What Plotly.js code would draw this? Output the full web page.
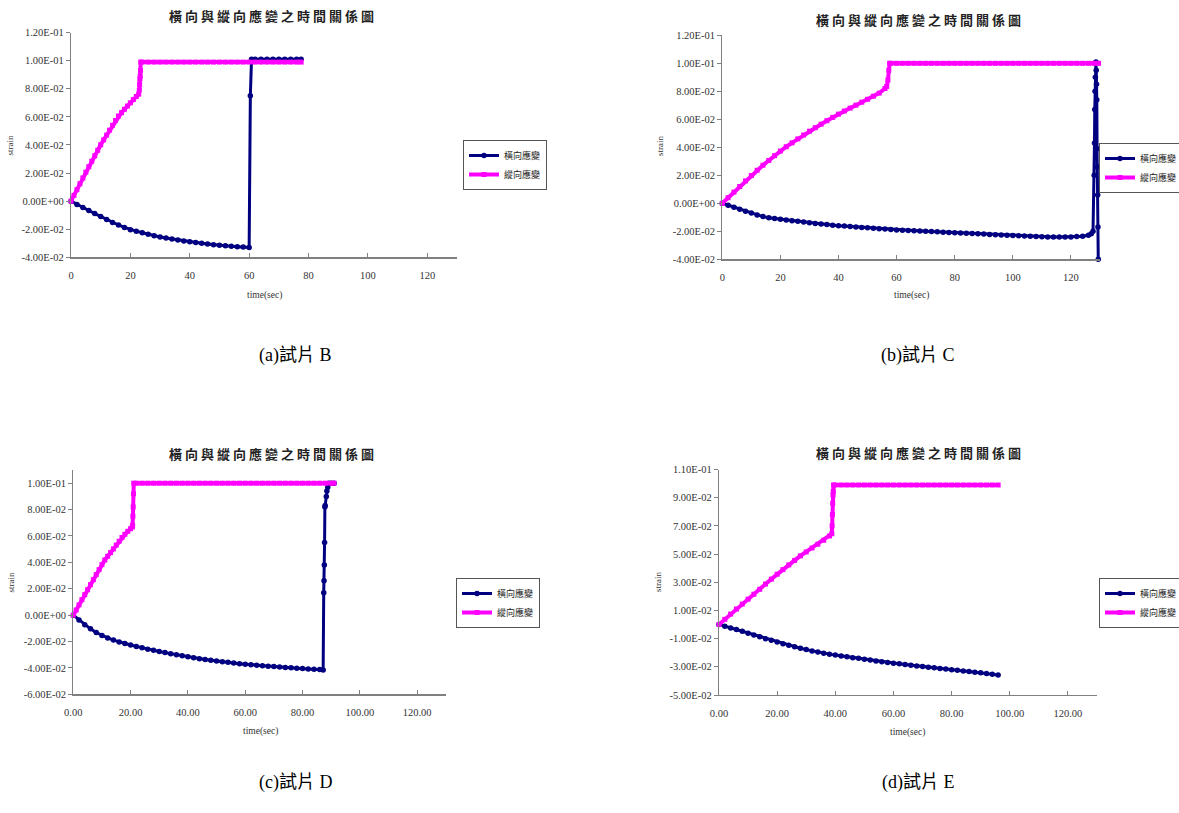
<!DOCTYPE html>
<html>
<head>
<meta charset="utf-8">
<script src="https://cdn.plot.ly/plotly-3.0.1.min.js"></script>
<style>
  html, body { margin: 0; padding: 0; background: #fff; }
  #chart { width: 1179px; height: 813px; }
  text[data-unformatted="橫向與縱向應變之時間關係圖"] { letter-spacing: 3px; }
</style>
</head>
<body>
<div id="chart"></div>
<script>
// ---------------- DATA ----------------
const seriesNames = ['橫向應變', '縱向應變'];
const chartTitle = '橫向與縱向應變之時間關係圖';
const captions = ['(a)試片 B', '(b)試片 C', '(c)試片 D', '(d)試片 E'];
const xAxisTitle = 'time(sec)';
const yAxisTitle = 'strain';

// x ticks
const xTickVals = [0, 20, 40, 60, 80, 100, 120];
const xTickTextAB = ['0', '20', '40', '60', '80', '100', '120'];
const xTickTextCD = ['0.00', '20.00', '40.00', '60.00', '80.00', '100.00', '120.00'];

// y ticks
const yTickValsAB = [-0.04, -0.02, 0, 0.02, 0.04, 0.06, 0.08, 0.10, 0.12];
const yTickTextAB = ['-4.00E-02', '-2.00E-02', '0.00E+00', '2.00E-02', '4.00E-02', '6.00E-02', '8.00E-02', '1.00E-01', '1.20E-01'];
const yGridAB = [-0.02, 0, 0.02, 0.04, 0.06, 0.08, 0.10];
const yTickValsC = [-0.06, -0.04, -0.02, 0, 0.02, 0.04, 0.06, 0.08, 0.10];
const yTickTextC = ['-6.00E-02', '-4.00E-02', '-2.00E-02', '0.00E+00', '2.00E-02', '4.00E-02', '6.00E-02', '8.00E-02', '1.00E-01'];
const yGridC = [-0.04, -0.02, 0, 0.02, 0.04, 0.06, 0.08, 0.10];
const yTickValsD = [-0.05, -0.03, -0.01, 0.01, 0.03, 0.05, 0.07, 0.09, 0.11];
const yTickTextD = ['-5.00E-02', '-3.00E-02', '-1.00E-02', '1.00E-02', '3.00E-02', '5.00E-02', '7.00E-02', '9.00E-02', '1.10E-01'];
const yGridD = [-0.03, -0.01, 0.01, 0.03, 0.05, 0.07, 0.09];

// (a) 試片 B
const tA_lat = [0,2,4,6,8,10,12,14,16,18,20,22,24,26,28,30,32,34,36,38,40,42,44,46,48,50,52,54,56,58,60,
  60.4,60.8,62,64,66,68,70,72,74,76,77.5];
const sA_lat = [0,-0.0024,-0.0046,-0.0067,-0.0089,-0.011,-0.0131,-0.0152,-0.017,-0.0187,
  -0.0203,-0.0214,-0.0225,-0.0236,-0.0246,-0.0255,-0.0263,-0.027,-0.0277,-0.0284,
  -0.029,-0.0295,-0.03,-0.0305,-0.031,-0.0315,-0.0318,-0.0321,-0.0324,-0.0327,-0.033,
  0.075,0.101,0.101,0.101,0.101,0.101,0.101,0.101,0.101,0.101,0.101];
const tA_lon = [0,1,2,3,4,5,6,7,8,9,10,11,12,13,14,15,16,17,18,19,20,21,22,
  22.8,23.0,23.1,23.2,23.3,23.4,23.5,
  24,26,28,30,32,34,36,38,40,42,44,46,48,50,52,54,56,58,60,62,64,66,68,70,72,74,76,77.5];
const sA_lon = [0,0.0041,0.0082,0.0124,0.0165,0.0206,0.0245,0.0284,0.0323,0.0362,
  0.0401,0.0436,0.047,0.0505,0.054,0.0574,0.0606,0.063,0.0654,0.0677,0.07,0.0723,0.0745,
  0.0762,0.079,0.083,0.087,0.089,0.093,0.099,
  0.099,0.099,0.099,0.099,0.099,0.099,0.099,0.099,0.099,0.099,
  0.099,0.099,0.099,0.099,0.099,0.099,0.099,0.099,0.099,0.099,
  0.099,0.099,0.099,0.099,0.099,0.099,0.099,0.099];

// (b) 試片 C
const tB_lat = [0,2,4,6,8,10,12,14,16,18,20,22,24,26,28,30,32,34,36,38,40,42,44,46,48,50,52,54,56,58,
  60,62,64,66,68,70,72,74,76,78,80,82,84,86,88,90,92,94,96,98,100,102,104,106,108,110,112,114,116,118,
  120,122,124,126,127,127.6,
  128.0,128.1,128.2,128.3,128.4,128.5,128.6,128.7,128.8,128.9,129.0,129.1,129.2,129.3,129.4];
const sB_lat = [0,-0.0014,-0.0028,-0.0042,-0.0056,-0.007,-0.0083,-0.0095,-0.0103,-0.0108,
  -0.0114,-0.0119,-0.0124,-0.0129,-0.0134,-0.0139,-0.0144,-0.0148,-0.0152,-0.0156,
  -0.016,-0.0163,-0.0166,-0.0169,-0.0172,-0.0175,-0.0178,-0.0181,-0.0184,-0.0187,
  -0.019,-0.0192,-0.0194,-0.0196,-0.0198,-0.02,-0.0202,-0.0204,-0.0206,-0.0208,
  -0.021,-0.0212,-0.0214,-0.0216,-0.0218,-0.022,-0.0222,-0.0224,-0.0226,-0.0228,
  -0.023,-0.0232,-0.0234,-0.0236,-0.0238,-0.0239,-0.024,-0.024,-0.024,-0.024,
  -0.024,-0.0238,-0.0235,-0.0228,-0.0218,-0.02,
  0.02,0.043,0.067,0.08,0.09,0.1,0.101,0.095,0.085,0.074,0.039,0.026,0.006,-0.017,-0.04];
const tB_lon = [0,2,4,6,8,10,12,14,16,18,20,22,24,26,28,30,32,34,36,38,40,42,44,46,48,50,52,54,56,
  56.6,57,57.3,57.6,58,
  60,62,64,66,68,70,72,74,76,78,80,82,84,86,88,90,92,94,96,98,100,102,104,106,108,110,112,114,116,118,
  120,122,124,126,128,129.5];
const sB_lon = [0,0.004,0.008,0.012,0.016,0.0198,0.0236,0.0272,0.0306,0.034,
  0.0373,0.0404,0.0432,0.046,0.0488,0.0515,0.054,0.0565,0.059,0.0614,
  0.0637,0.0659,0.068,0.0701,0.0722,0.0743,0.0765,0.0787,0.082,
  0.0835,0.088,0.095,0.1,0.1,
  0.1,0.1,0.1,0.1,0.1,0.1,0.1,0.1,0.1,0.1,
  0.1,0.1,0.1,0.1,0.1,0.1,0.1,0.1,0.1,0.1,
  0.1,0.1,0.1,0.1,0.1,0.1,0.1,0.1,0.1,0.1,
  0.1,0.1,0.1,0.1,0.1,0.1];

// (c) 試片 D
const tC_lat = [0,2,4,6,8,10,12,14,16,18,20,22,24,26,28,30,32,34,36,38,40,42,44,46,48,50,52,54,56,58,
  60,62,64,66,68,70,72,74,76,78,80,82,84,86,
  87.2,87.4,87.5,87.6,87.7,87.8,87.9,88.3,88.5,88.8,89.2,90,91];
const sC_lat = [0,-0.0037,-0.0072,-0.0104,-0.0132,-0.0155,-0.0173,-0.0189,-0.0203,-0.0215,
  -0.0226,-0.0237,-0.0248,-0.0258,-0.0267,-0.0276,-0.0284,-0.0292,-0.03,-0.0308,
  -0.0316,-0.0323,-0.033,-0.0336,-0.0342,-0.0348,-0.0353,-0.0358,-0.0363,-0.0368,
  -0.0372,-0.0376,-0.038,-0.0384,-0.0387,-0.039,-0.0393,-0.0396,-0.0399,-0.0402,
  -0.0405,-0.0408,-0.041,-0.0412,
  -0.0415,0.017,0.026,0.038,0.055,0.082,0.083,0.09,0.094,0.097,0.1,0.1,0.1];
const tC_lon = [0,1,2,3,4,5,6,7,8,9,10,11,12,13,14,15,16,17,18,19,20,
  20.6,20.7,20.8,20.9,21.0,21.1,
  22,24,26,28,30,32,34,36,38,40,42,44,46,48,50,52,54,56,58,60,62,64,66,68,70,72,74,76,78,80,82,84,86,88,90,91];
const sC_lon = [0,0.0039,0.0078,0.0117,0.0155,0.0193,0.0231,0.0269,0.0307,0.0345,
  0.0383,0.0418,0.0446,0.0474,0.0502,0.0531,0.056,0.0589,0.0613,0.0635,0.0655,
  0.0668,0.068,0.075,0.082,0.092,0.1,
  0.1,0.1,0.1,0.1,0.1,0.1,0.1,0.1,0.1,0.1,
  0.1,0.1,0.1,0.1,0.1,0.1,0.1,0.1,0.1,0.1,
  0.1,0.1,0.1,0.1,0.1,0.1,0.1,0.1,0.1,0.1,
  0.1,0.1,0.1,0.1,0.1,0.1];

// (d) 試片 E
const tD_lat = [0,2,4,6,8,10,12,14,16,18,20,22,24,26,28,30,32,34,36,38,40,42,44,46,48,
  50,52,54,56,58,60,62,64,66,68,70,72,74,76,78,80,82,84,86,88,90,92,94,96];
const sD_lat = [0,-0.0012,-0.0024,-0.0036,-0.0048,-0.0061,-0.0074,-0.0087,-0.01,-0.0112,
  -0.0124,-0.0136,-0.0147,-0.0158,-0.0168,-0.0178,-0.0187,-0.0195,-0.0203,-0.021,
  -0.0217,-0.0223,-0.0229,-0.0235,-0.024,-0.0246,-0.0252,-0.0258,-0.0264,-0.0269,
  -0.0274,-0.0279,-0.0284,-0.0289,-0.0294,-0.0298,-0.0303,-0.0307,-0.0312,-0.0316,
  -0.032,-0.0325,-0.0329,-0.0334,-0.0338,-0.0343,-0.0348,-0.0353,-0.0358];
const tD_lon = [0,2,4,6,8,10,12,14,16,18,20,22,24,26,28,30,32,34,36,38,
  38.8,38.9,39.0,39.1,39.2,39.3,39.4,
  40,42,44,46,48,50,52,54,56,58,60,62,64,66,68,70,72,74,76,78,80,82,84,86,88,90,92,94,96];
const sD_lon = [0,0.0037,0.0074,0.011,0.0145,0.018,0.0215,0.025,0.0287,0.0322,
  0.0357,0.039,0.0423,0.0455,0.0487,0.0515,0.0543,0.057,0.0598,0.0628,
  0.0644,0.07,0.078,0.086,0.092,0.0945,0.099,
  0.099,0.099,0.099,0.099,0.099,0.099,0.099,0.099,0.099,0.099,
  0.099,0.099,0.099,0.099,0.099,0.099,0.099,0.099,0.099,0.099,
  0.099,0.099,0.099,0.099,0.099,0.099,0.099,0.099,0.099];

// ---------------- LAYOUT ----------------
const W = 1179, H = 813;
const fx = px => px / W;
const fy = py => 1 - py / H;

const NAVY = '#000080', PINK = '#FF00FF';
const GRID = '#7c7c7c', AXIS = '#808080';
const SERIF = '"Liberation Serif", "Times New Roman", serif';
const CJK = '"Noto Sans CJK TC", "Noto Sans CJK SC", sans-serif';

const panels = [
  { tLat: tA_lat, sLat: sA_lat, tLon: tA_lon, sLon: sA_lon,
    yRange: [-0.04, 0.12], yVals: yTickValsAB, yText: yTickTextAB, grid: yGridAB, xText: xTickTextAB,
    box: [71, 457, 32.6, 257.3], legend: [463, 140], title: [273, 16], ytitle: [9.5, 145], xtitle: [264, 295], cap: [295, 355] },
  { tLat: tB_lat, sLat: sB_lat, tLon: tB_lon, sLon: sB_lon,
    yRange: [-0.04, 0.12], yVals: yTickValsAB, yText: yTickTextAB, grid: yGridAB, xText: xTickTextAB,
    box: [722.3, 1100, 35.3, 259.3], legend: [1099, 143], title: [920, 19], ytitle: [660, 146], xtitle: [911, 295], cap: [918, 355] },
  { tLat: tC_lat, sLat: sC_lat, tLon: tC_lon, sLon: sC_lon,
    yRange: [-0.06, 0.11], yVals: yTickValsC, yText: yTickTextC, grid: yGridC, xText: xTickTextCD,
    box: [73.3, 445.8, 470, 694.3], legend: [456, 578], title: [273, 453], ytitle: [11.4, 582], xtitle: [260, 731], cap: [295, 782] },
  { tLat: tD_lat, sLat: sD_lat, tLon: tD_lon, sLon: sD_lon,
    yRange: [-0.05, 0.11], yVals: yTickValsD, yText: yTickTextD, grid: yGridD, xText: xTickTextCD,
    box: [719, 1097, 469.5, 695], legend: [1099, 578], title: [920, 452], ytitle: [658, 582], xtitle: [907, 732], cap: [918, 782] }
];

const data = [];
const layout = {
  width: W, height: H,
  margin: { l: 0, r: 0, t: 0, b: 0, autoexpand: false },
  paper_bgcolor: '#ffffff', plot_bgcolor: '#ffffff',
  showlegend: true,
  annotations: []
};

panels.forEach((p, i) => {
  const n = i + 1;
  const xk = n === 1 ? 'xaxis' : 'xaxis' + n;
  const yk = n === 1 ? 'yaxis' : 'yaxis' + n;
  const gk = 'yaxis' + (n + 4);
  const xr = n === 1 ? 'x' : 'x' + n;
  const yr = n === 1 ? 'y' : 'y' + n;
  const lk = n === 1 ? 'legend' : 'legend' + n;

  layout[xk] = {
    domain: [fx(p.box[0]), fx(p.box[1])], anchor: yr,
    range: [0, 130], tickvals: xTickVals, ticktext: p.xText,
    showgrid: false, zeroline: false, showline: true, linecolor: AXIS, linewidth: 1.2,
    ticks: 'inside', ticklen: 4, tickcolor: AXIS, ticklabelstandoff: 8,
    tickfont: { family: SERIF, size: 10.5, color: '#333' }, fixedrange: true
  };
  layout[yk] = {
    domain: [fy(p.box[3]), fy(p.box[2])], anchor: xr,
    range: p.yRange, tickvals: p.yVals, ticktext: p.yText,
    showgrid: false, zeroline: false, showline: true, linecolor: AXIS, linewidth: 1.2,
    ticks: 'outside', ticklen: 4, tickcolor: AXIS,
    tickfont: { family: SERIF, size: 10.5, color: '#333' }, fixedrange: true
  };
  layout[gk] = {
    overlaying: yr, anchor: xr, range: p.yRange, tickvals: p.grid,
    showgrid: true, gridcolor: GRID, gridwidth: 1.6,
    showticklabels: false, ticks: '', zeroline: false, showline: false, fixedrange: true
  };
  layout[lk] = {
    x: fx(p.legend[0]), y: fy(p.legend[1]), xanchor: 'left', yanchor: 'top',
    bgcolor: '#ffffff', bordercolor: '#555', borderwidth: 1,
    font: { family: CJK, size: 9, color: '#222' }, itemwidth: 30, tracegroupgap: 0
  };

  data.push({
    type: 'scatter', mode: 'lines+markers', name: seriesNames[0],
    x: p.tLat, y: p.sLat, xaxis: xr, yaxis: yr, legend: lk, cliponaxis: false,
    line: { color: NAVY, width: 3 },
    marker: { color: NAVY, symbol: 'circle', size: 5.5 }
  });
  data.push({
    type: 'scatter', mode: 'lines+markers', name: seriesNames[1],
    x: p.tLon, y: p.sLon, xaxis: xr, yaxis: yr, legend: lk, cliponaxis: false,
    line: { color: PINK, width: 4 },
    marker: { color: PINK, symbol: 'square', size: 5 }
  });

  layout.annotations.push(
    { text: chartTitle, xref: 'paper', yref: 'paper', x: fx(p.title[0]), y: fy(p.title[1]),
      xanchor: 'center', yanchor: 'middle', showarrow: false,
      font: { family: CJK, size: 13, color: '#222', weight: 'bold' } },
    { text: yAxisTitle, xref: 'paper', yref: 'paper', x: fx(p.ytitle[0]), y: fy(p.ytitle[1]),
      xanchor: 'center', yanchor: 'middle', showarrow: false, textangle: -90,
      font: { family: SERIF, size: 9, color: '#333' } },
    { text: xAxisTitle, xref: 'paper', yref: 'paper', x: fx(p.xtitle[0]), y: fy(p.xtitle[1]),
      xanchor: 'center', yanchor: 'middle', showarrow: false,
      font: { family: SERIF, size: 9.5, color: '#333' } },
    { text: captions[i], xref: 'paper', yref: 'paper', x: fx(p.cap[0]), y: fy(p.cap[1]),
      xanchor: 'center', yanchor: 'middle', showarrow: false,
      font: { family: SERIF + ', ' + CJK, size: 18, color: '#000' } }
  );
});

Plotly.newPlot('chart', data, layout, { staticPlot: true, displayModeBar: false });
</script>
</body>
</html>
